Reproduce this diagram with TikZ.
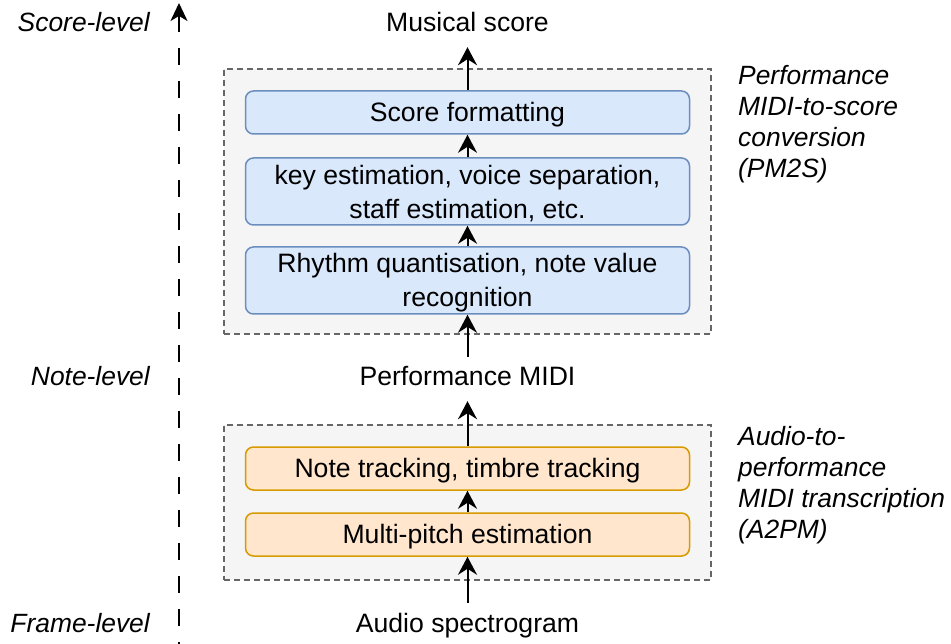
\documentclass[tikz,border=0pt]{standalone}
\usepackage{fontspec}
\setmainfont{Liberation Sans}
\usetikzlibrary{arrows.meta}
\definecolor{bluefill}{HTML}{DAE8FC}
\definecolor{bluedraw}{HTML}{6C8EBF}
\definecolor{orangefill}{HTML}{FFE6CC}
\definecolor{orangedraw}{HTML}{D79B00}
\definecolor{groupfill}{HTML}{F5F5F5}
\definecolor{groupdraw}{HTML}{666666}
\tikzset{
  txt/.style={font=\fontsize{26.6}{34}\selectfont, inner xsep=0pt, inner ysep=9pt, text height=20pt, text depth=6pt, align=center},
  itxt/.style={font=\fontsize{26.4}{31}\selectfont\itshape, inner sep=0pt},
  group/.style={draw=groupdraw, fill=groupfill, line width=1.3pt, dash pattern=on 6pt off 4pt},
  procbox/.style={line width=1.5pt, rounded corners=8pt, minimum width=444pt, inner sep=0pt, align=center, font=\fontsize{26.6}{34}\selectfont},
  oneline/.style={text height=23pt, minimum height=43pt},
  twoline/.style={text height=57.4pt, minimum height=67pt},
  bluebox/.style={procbox, draw=bluedraw, fill=bluefill},
  orangebox/.style={procbox, draw=orangedraw, fill=orangefill},
  flow/.style={line width=2pt, -{Stealth[length=18pt,width=19pt,inset=6pt]}},
}
\begin{document}
\begin{tikzpicture}[x=1pt,y=-1pt]
\useasboundingbox (0,0) rectangle (951,644);
% groups
\node[group, minimum width=487pt, minimum height=265pt, inner sep=0pt] (g1) at (467.5,201.5) {};
\node[group, minimum width=487pt, minimum height=155pt, inner sep=0pt] (g2) at (467.5,502.5) {};
% boxes
\node[bluebox, oneline] (sf) at (467.5,112.5) {Score formatting};
\node[bluebox, twoline] (ke) at (467.5,191.5) {key estimation, voice separation,\\staff estimation, etc.};
\node[bluebox, twoline] (rq) at (467.5,280.5) {Rhythm quantisation, note value\\recognition};
\node[orangebox, oneline] (nt) at (467.5,468.5) {Note tracking, timbre tracking};
\node[orangebox, oneline] (mp) at (467.5,534.5) {Multi-pitch estimation};
% level texts
\node[txt] (ms) at (467.5,25) {Musical score};
\node[txt] (pm) at (467.5,379) {Performance MIDI};
\node[txt] (as) at (467.5,625) {Audio spectrogram};
% arrows
\draw[flow] (sf.north) -- (ms.south);
\draw[flow] (ke.north) -- (sf.south);
\draw[flow] (rq.north) -- (ke.south);
\draw[flow] (pm.north) -- (rq.south);
\draw[flow] (nt.north) -- (pm.south);
\draw[flow] (mp.north) -- (nt.south);
\draw[flow] (as.north) -- (mp.south);
% axis
\coordinate (axb) at (179,650);
\coordinate (axt) at (179,3);
\draw[line width=2pt, dash pattern=on 17pt off 16pt, {Stealth[length=18pt,width=17pt,inset=5pt]}-] (axt) -- (axb);
\node[itxt, anchor=base east] (sl) at (150,32) {Score-level};
\node[itxt, anchor=base east] (nl) at (150,386) {Note-level};
\node[itxt, anchor=base east] (fl) at (150,632) {Frame-level};
% side labels
\node[itxt, anchor=north west, align=left] (l1) at (738,65) {Performance\\MIDI-to-score\\conversion\\(PM2S)};
\node[itxt, anchor=north west, align=left] (l2) at (738,426) {Audio-to-\\performance\\MIDI transcription\\(A2PM)};
\end{tikzpicture}
\end{document}
